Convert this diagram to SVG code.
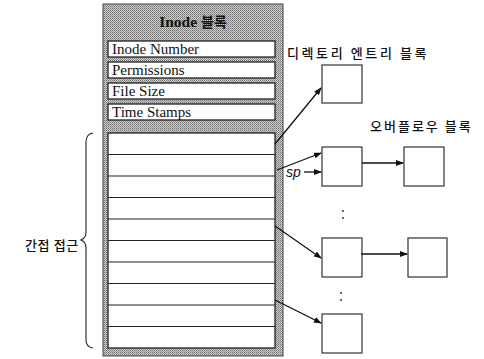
<svg xmlns="http://www.w3.org/2000/svg" width="484" height="359" viewBox="0 0 484 359">
<defs>
<pattern id="dots" width="2" height="2" patternUnits="userSpaceOnUse">
<rect width="2" height="2" fill="#cfcfcf"/>
<rect width="1" height="1" fill="#6e6e6e"/>
<rect x="1" y="1" width="1" height="1" fill="#909090"/>
</pattern>
<marker id="ah" markerWidth="8" markerHeight="6" refX="7" refY="3" orient="auto" markerUnits="userSpaceOnUse">
<path d="M0,0 L8,3 L0,6 Z" fill="#111"/>
</marker>
<style>
.field{fill:#fff;stroke:#222;stroke-width:1.3}
.ftxt{font-family:"Liberation Serif",serif;font-size:15px;fill:#111}
.blk{fill:#fff;stroke:#333;stroke-width:1.2}
.kr{font-family:"Noto Sans CJK KR",sans-serif;font-size:13px;fill:#111;font-weight:500}
.row{stroke:#222;stroke-width:1.2}
.con{fill:none;stroke:#111;stroke-width:1.3;marker-end:url(#ah)}
</style>
</defs>
<rect width="484" height="359" fill="#fff"/>
<g id="inode">
<rect x="103" y="4" width="180" height="352" fill="url(#dots)" stroke="#444" stroke-width="1"/>
<text x="193" y="27" text-anchor="middle" font-family="Liberation Serif, 'Noto Sans CJK KR', serif" font-weight="bold" font-size="15.5" fill="#111">Inode <tspan font-family="Noto Sans CJK KR, sans-serif" font-size="14">블록</tspan></text>
<g id="f-inode-number"><rect class="field" x="108" y="41" width="167" height="16"/><text class="ftxt" x="112" y="54">Inode Number</text></g>
<g id="f-permissions"><rect class="field" x="108" y="62" width="167" height="16"/><text class="ftxt" x="112" y="75">Permissions</text></g>
<g id="f-file-size"><rect class="field" x="108" y="83" width="167" height="16"/><text class="ftxt" x="112" y="96">File Size</text></g>
<g id="f-time-stamps"><rect class="field" x="108" y="104" width="167" height="16"/><text class="ftxt" x="112" y="117">Time Stamps</text></g>
<g id="index-rows">
<rect x="108" y="133" width="167" height="215" fill="#fff" stroke="#222" stroke-width="1.3"/>
<line class="row" x1="108" y1="154.5" x2="275" y2="154.5"/>
<line class="row" x1="108" y1="176" x2="275" y2="176"/>
<line class="row" x1="108" y1="197.5" x2="275" y2="197.5"/>
<line class="row" x1="108" y1="219" x2="275" y2="219"/>
<line class="row" x1="108" y1="240.5" x2="275" y2="240.5"/>
<line class="row" x1="108" y1="262" x2="275" y2="262"/>
<line class="row" x1="108" y1="283.5" x2="275" y2="283.5"/>
<line class="row" x1="108" y1="305" x2="275" y2="305"/>
<line class="row" x1="108" y1="326.5" x2="275" y2="326.5"/>
</g>
</g>
<g id="brace">
<path d="M93,133 Q86,134 86,142 L86,232 Q86,238 81,240 Q86,242 86,248 L86,340 Q86,347 93,348" fill="none" stroke="#222" stroke-width="1.1"/>
<text class="kr" x="25" y="250" font-size="12" letter-spacing="0.6">간접 접근</text>
</g>
<g id="dir-block">
<text class="kr" x="287" y="58" letter-spacing="2.6">디렉토리 엔트리 블록</text>
<rect class="blk" x="322" y="65" width="40" height="38"/>
</g>
<text id="overflow-label" class="kr" x="370" y="131" letter-spacing="2">오버플로우 블록</text>
<g id="block-2"><rect class="blk" x="322" y="147" width="40" height="39"/></g>
<g id="block-2b"><rect class="blk" x="404" y="147" width="40" height="39"/></g>
<g id="block-3"><rect class="blk" x="322" y="238" width="40" height="39"/></g>
<g id="block-3b"><rect class="blk" x="408" y="238" width="39" height="39"/></g>
<g id="block-4"><rect class="blk" x="322" y="314" width="40" height="39"/></g>
<g id="dots-marks" fill="#222">
<circle cx="343" cy="211" r="0.9"/><circle cx="343" cy="218" r="0.9"/>
<circle cx="341" cy="293" r="0.9"/><circle cx="341" cy="300" r="0.9"/>
</g>
<text id="sp" x="286" y="177" font-family="Liberation Sans, sans-serif" font-style="italic" font-size="14" fill="#111">sp</text>
<g id="connectors">
<line class="con" x1="275" y1="144" x2="321" y2="88"/>
<line class="con" x1="277" y1="170" x2="321" y2="153"/>
<line class="con" x1="304" y1="172" x2="321" y2="172"/>
<line class="con" x1="362" y1="163" x2="403" y2="163"/>
<line class="con" x1="275" y1="226" x2="321" y2="258"/>
<line class="con" x1="361" y1="254" x2="407" y2="254"/>
<line class="con" x1="275" y1="300" x2="321" y2="323"/>
</g>
</svg>
